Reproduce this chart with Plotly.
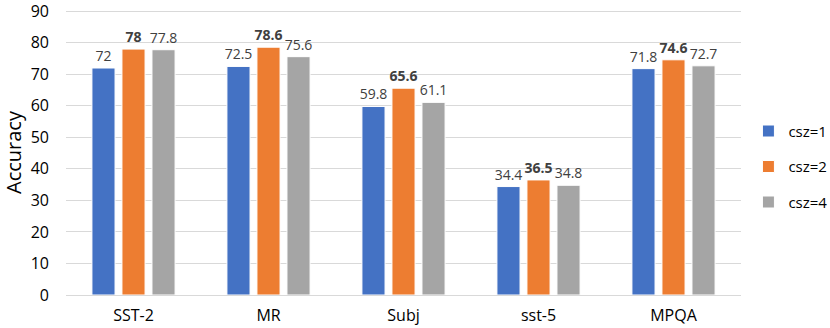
import plotly.graph_objects as go

categories = ["SST-2", "MR", "Subj", "sst-5", "MPQA"]
csz1 = [72, 72.5, 59.8, 34.4, 71.8]
csz2 = [78, 78.6, 65.6, 36.5, 74.6]
csz4 = [77.8, 75.6, 61.1, 34.8, 72.7]
series_names = ["csz=1", "csz=2", "csz=4"]
colors = ["#4472C4", "#ED7D31", "#A5A5A5"]
y_ticks = [0, 10, 20, 30, 40, 50, 60, 70, 80, 90]

fig = go.Figure()
for name, vals, col, bold in zip(series_names, [csz1, csz2, csz4], colors, [False, True, False]):
    txt = [f"<b>{v:g}</b>" if bold else f"{v:g}" for v in vals]
    fig.add_trace(go.Bar(
        x=categories, y=vals, name=name, legendgroup=name,
        marker=dict(color=col, line=dict(color="white", width=1)),
        text=txt, textposition="outside", cliponaxis=False, constraintext="none",
        textfont=dict(size=14, color="#404040", family="Open Sans"),
    ))

fig.update_layout(
    width=830, height=328,
    margin=dict(l=66, r=89, t=10, b=33, autoexpand=False),
    paper_bgcolor="white", plot_bgcolor="white",
    barmode="group", bargap=0.333, bargroupgap=0.23,
    font=dict(family="Open Sans", color="#000000"),
    legend=dict(x=1.011, y=0.45, xanchor="left", yanchor="middle",
                font=dict(size=15, color="#000000"), itemwidth=30, tracegroupgap=13),
)
fig.update_xaxes(showgrid=False, showline=True, linecolor="#D9D9D9", linewidth=1,
                 tickfont=dict(size=16), ticks="", automargin=False, ticklabelstandoff=6)
fig.update_yaxes(range=[0, 90.4], tickvals=y_ticks, showgrid=True, gridcolor="#D9D9D9",
                 zeroline=False, tickfont=dict(size=16), ticks="", automargin=False,
                 ticklabeloverflow="allow", ticklabelstandoff=16,
                 title=dict(text="Accuracy", font=dict(size=20), standoff=8))
fig.write_html("out.html", config={"displayModeBar": False},
               post_script="document.body.style.margin='0';document.body.style.overflow='hidden';")
